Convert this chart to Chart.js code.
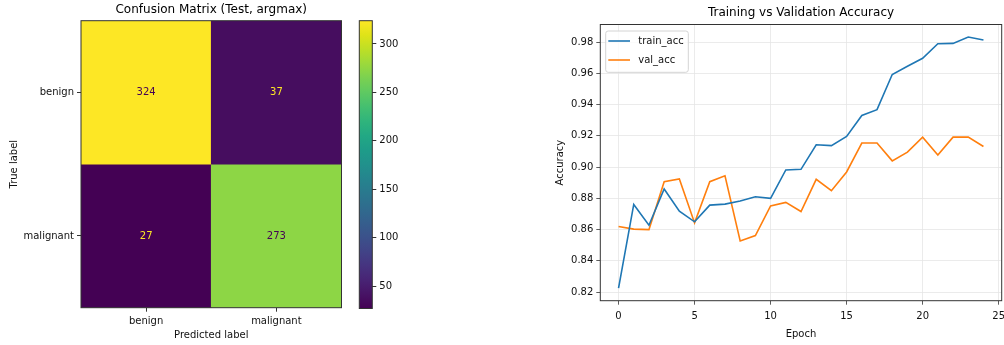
<!DOCTYPE html>
<html lang="en">
<head>
  <meta charset="UTF-8">
  <title>Confusion Matrix / Accuracy</title>
  <style>
    html, body { margin: 0; padding: 0; background: #fff; }
    body { width: 1004px; height: 345px; position: relative; overflow: hidden; }
    .box { position: absolute; top: 0; height: 345px; }
    #cm-box { left: 0; width: 345px; }
    #cb-box { left: 345px; width: 65px; }
    #acc-box { left: 540px; width: 464px; }
  </style>
</head>
<body>
  <div class="box" id="cm-box"><canvas id="cm-chart"></canvas></div>
  <div class="box" id="cb-box"><canvas id="cb-chart"></canvas></div>
  <div class="box" id="acc-box"><canvas id="acc-chart"></canvas></div>

  <script src="https://cdn.jsdelivr.net/npm/chart.js"></script>
  <script>
    // confusion matrix (rows = true label, cols = predicted label)
    const classes = ['benign', 'malignant'];
    const benignRow = [324, 37];
    const malignantRow = [27, 273];
    const colorbarTicks = [50, 100, 150, 200, 250, 300];

    // training curves
    const epochs = [0, 1, 2, 3, 4, 5, 6, 7, 8, 9, 10, 11, 12, 13, 14, 15, 16, 17, 18, 19, 20, 21, 22, 23, 24];
    const trainAcc = [0.8225, 0.8761, 0.8628, 0.886, 0.8718, 0.865, 0.8757, 0.8763, 0.8783, 0.881, 0.880, 0.8982, 0.8986,
                      0.9143, 0.9138, 0.9196, 0.9331, 0.9368, 0.9593, 0.9646, 0.9697, 0.979, 0.9792, 0.9833, 0.9814];
    const valAcc = [0.862, 0.8603, 0.860, 0.8907, 0.8924, 0.8643, 0.8907, 0.8945, 0.8527, 0.8562, 0.8752, 0.8774, 0.8716,
                    0.8922, 0.8849, 0.8969, 0.9154, 0.9154, 0.904, 0.9096, 0.9192, 0.9078, 0.9192, 0.9192, 0.9132];
    const epochTicks = [0, 5, 10, 15, 20, 25];
    const accTicks = [0.82, 0.84, 0.86, 0.88, 0.90, 0.92, 0.94, 0.96, 0.98];

    Chart.defaults.font.family = "'DejaVu Sans', sans-serif";
    Chart.defaults.font.size = 10;
    Chart.defaults.color = '#111';
    Chart.defaults.animation = false;
    Chart.defaults.plugins.legend.display = false;
    Chart.defaults.plugins.tooltip.enabled = false;

    const SPINE = '#333';
    const VIRIDIS = ['#440154', '#471365', '#482475', '#463480', '#414487', '#3b528b', '#355f8d',
                     '#2f6c8e', '#2a788e', '#25848e', '#21918c', '#1e9c89', '#22a884', '#2fb47c',
                     '#44bf70', '#5ec962', '#7ad151', '#9bd93c', '#bddf26', '#dfe318', '#fde725'];

    function hexToRgb(h) {
      return [parseInt(h.slice(1, 3), 16), parseInt(h.slice(3, 5), 16), parseInt(h.slice(5, 7), 16)];
    }

    function viridis(t) {
      t = Math.max(0, Math.min(1, t));
      const pos = t * (VIRIDIS.length - 1);
      const i = Math.min(Math.floor(pos), VIRIDIS.length - 2);
      const f = pos - i;
      const a = hexToRgb(VIRIDIS[i]), b = hexToRgb(VIRIDIS[i + 1]);
      const c = a.map((v, k) => Math.round(v + (b[k] - v) * f));
      return 'rgb(' + c.join(',') + ')';
    }

    const rows = [benignRow, malignantRow];
    const cellMin = Math.min(...benignRow, ...malignantRow);
    const cellMax = Math.max(...benignRow, ...malignantRow);

    // four-sided axes frame like matplotlib spines
    const frame = {
      id: 'frame',
      afterDatasetsDraw(chart) {
        const a = chart.chartArea, ctx = chart.ctx;
        ctx.save();
        ctx.strokeStyle = SPINE;
        ctx.lineWidth = 1;
        ctx.strokeRect(a.left, a.top, a.right - a.left, a.bottom - a.top);
        ctx.restore();
      }
    };

    const cellText = {
      id: 'cellText',
      afterDatasetsDraw(chart) {
        const ctx = chart.ctx;
        ctx.save();
        ctx.font = "10px 'DejaVu Sans', sans-serif";
        ctx.textAlign = 'center';
        ctx.textBaseline = 'middle';
        chart.data.datasets.forEach((ds, i) => {
          chart.getDatasetMeta(i).data.forEach((bar, j) => {
            const v = ds.cellValues[j];
            ctx.fillStyle = v > (cellMin + cellMax) / 2 ? viridis(0) : viridis(1);
            ctx.fillText(String(v), bar.x, (bar.y + bar.base) / 2);
          });
        });
        ctx.restore();
      }
    };

    new Chart(document.getElementById('cm-chart'), {
      type: 'bar',
      data: {
        labels: classes,
        datasets: rows.map((row, r) => ({
          label: classes[r],
          data: row.map(() => [classes.length - 1 - r, classes.length - r]),
          cellValues: row,
          backgroundColor: row.map(v => viridis((v - cellMin) / (cellMax - cellMin))),
          borderWidth: 0,
          grouped: false,
          barPercentage: 1,
          categoryPercentage: 1
        }))
      },
      options: {
        responsive: true,
        maintainAspectRatio: false,
        devicePixelRatio: 1,
        layout: { padding: { left: 0, right: 3.5, top: 0, bottom: 0 } },
        plugins: {
          title: {
            display: true,
            text: 'Confusion Matrix (Test, argmax)',
            color: '#000',
            fullSize: false,
            font: { size: 12, weight: 'normal' },
            padding: { top: 3, bottom: 3.3 }
          }
        },
        scales: {
          x: {
            type: 'category',
            grid: { offset: false, drawOnChartArea: false, tickLength: 4, tickColor: SPINE },
            border: { display: false },
            ticks: { padding: 4 },
            title: { display: true, text: 'Predicted label', padding: { top: 0, bottom: 4 } },
            afterFit: s => { s.height = 37.3; s.paddingLeft = 0; s.paddingRight = 0; }
          },
          y: {
            type: 'linear',
            min: 0,
            max: 2,
            afterBuildTicks: s => { s.ticks = [{ value: 0.5 }, { value: 1.5 }]; },
            grid: { drawOnChartArea: false, tickLength: 4, tickColor: SPINE },
            border: { display: false },
            ticks: { padding: 3, callback: v => classes[Math.round(classes.length - 0.5 - v)] },
            title: { display: true, text: 'True label', padding: { top: 8, bottom: 0 } },
            afterFit: s => { s.width = 81; }
          }
        }
      },
      plugins: [cellText, frame]
    });

    // colorbar
    new Chart(document.getElementById('cb-chart'), {
      type: 'bar',
      data: {
        labels: [''],
        datasets: [{
          data: [[cellMin, cellMax]],
          backgroundColor: ctx => {
            const a = ctx.chart.chartArea;
            if (!a) return viridis(0);
            const g = ctx.chart.ctx.createLinearGradient(0, a.bottom, 0, a.top);
            VIRIDIS.forEach((c, i) => g.addColorStop(i / (VIRIDIS.length - 1), c));
            return g;
          },
          borderWidth: 0,
          barPercentage: 1,
          categoryPercentage: 1
        }]
      },
      options: {
        responsive: true,
        maintainAspectRatio: false,
        devicePixelRatio: 1,
        layout: { padding: { left: 14.3, right: 0, top: 20.7, bottom: 36.5 } },
        scales: {
          x: { display: false },
          y: {
            position: 'right',
            min: cellMin,
            max: cellMax,
            afterBuildTicks: s => { s.ticks = colorbarTicks.map(v => ({ value: v })); },
            grid: { drawOnChartArea: false, tickLength: 4, tickColor: SPINE },
            border: { display: false },
            ticks: { padding: 3 },
            afterFit: s => { s.width = 37.7; }
          }
        }
      },
      plugins: [frame]
    });

    // matplotlib-style legend in the upper left of the plot area
    const boxLegend = {
      id: 'boxLegend',
      afterDraw(chart) {
        const a = chart.chartArea, ctx = chart.ctx;
        const x0 = a.left + 5.4, y0 = a.top + 6.5, w = 82.6, h = 41.3, r = 2.5;
        ctx.save();
        ctx.beginPath();
        ctx.roundRect(x0, y0, w, h, r);
        ctx.fillStyle = 'rgba(255,255,255,0.8)';
        ctx.fill();
        ctx.strokeStyle = '#d4d4d4';
        ctx.lineWidth = 1;
        ctx.stroke();
        ctx.font = "10px 'DejaVu Sans', sans-serif";
        ctx.textBaseline = 'middle';
        ctx.textAlign = 'left';
        chart.data.datasets.forEach((ds, i) => {
          const y = y0 + 10 + i * 19;
          ctx.strokeStyle = ds.borderColor;
          ctx.lineWidth = ds.borderWidth;
          ctx.beginPath();
          ctx.moveTo(x0 + 2.6, y);
          ctx.lineTo(x0 + 24.3, y);
          ctx.stroke();
          ctx.fillStyle = '#111';
          ctx.fillText(ds.label, x0 + 32.6, y);
        });
        ctx.restore();
      }
    };

    const gridStyle = { color: '#e6e6e6', lineWidth: 0.8, tickLength: 4, tickColor: SPINE };

    new Chart(document.getElementById('acc-chart'), {
      type: 'line',
      data: {
        datasets: [
          {
            label: 'train_acc',
            data: epochs.map((e, i) => ({ x: e, y: trainAcc[i] })),
            borderColor: '#1f77b4',
            borderWidth: 1.6,
            pointRadius: 0,
            tension: 0,
            fill: false
          },
          {
            label: 'val_acc',
            data: epochs.map((e, i) => ({ x: e, y: valAcc[i] })),
            borderColor: '#ff7f0e',
            borderWidth: 1.6,
            pointRadius: 0,
            tension: 0,
            fill: false
          }
        ]
      },
      options: {
        responsive: true,
        maintainAspectRatio: false,
        devicePixelRatio: 1,
        layout: { padding: { left: 0, right: 2.3, top: 0, bottom: 0 } },
        plugins: {
          title: {
            display: true,
            text: 'Training vs Validation Accuracy',
            color: '#000',
            fullSize: false,
            font: { size: 12, weight: 'normal' },
            padding: { top: 5.5, bottom: 4.6 }
          }
        },
        scales: {
          x: {
            type: 'linear',
            min: -1.2,
            max: 25.2,
            afterBuildTicks: s => { s.ticks = epochTicks.map(v => ({ value: v })); },
            grid: gridStyle,
            border: { display: false },
            ticks: { padding: 6, callback: v => String(v) },
            title: { display: true, text: 'Epoch', padding: { top: 0, bottom: 4.5 } },
            afterFit: s => { s.height = 44.3; s.paddingLeft = 0; s.paddingRight = 0; }
          },
          y: {
            type: 'linear',
            min: 0.8145,
            max: 0.9913,
            afterBuildTicks: s => { s.ticks = accTicks.map(v => ({ value: v })); },
            grid: gridStyle,
            border: { display: false },
            ticks: { padding: 3, callback: v => v.toFixed(2) },
            title: { display: true, text: 'Accuracy', padding: { top: 14, bottom: 0 } },
            afterFit: s => { s.width = 60.3; s.paddingTop = 0; s.paddingBottom = 0; }
          }
        }
      },
      plugins: [frame, boxLegend]
    });
  </script>
</body>
</html>
